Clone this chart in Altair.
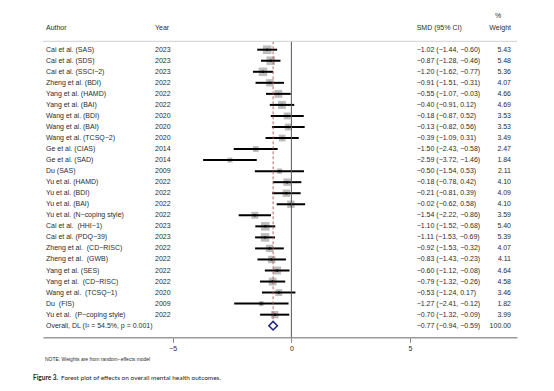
import altair as alt
import pandas as pd

authors = ["Cai et al. (SAS)", "Cai et al. (SDS)", "Cai et al. (SSCI\u22122)", "Zheng et al. (BDI)",
           "Yang et al. (HAMD)", "Yang et al. (BAI)", "Wang et al. (BDI)", "Wang et al. (BAI)",
           "Wang et al. (TCSQ\u22122)", "Ge et al. (CIAS)", "Ge et al. (SAD)", "Du (SAS)",
           "Yu et al. (HAMD)", "Yu et al. (BDI)", "Yu et al. (BAI)", "Yu et al. (N\u2212coping style)",
           "Cai et al.\u00a0 (HHI\u22121)", "Cai et al. (PDQ\u221239)", "Zheng et al.\u00a0 (CD\u2212RISC)",
           "Zheng et al.\u00a0 (GWB)", "Yang et al. (SES)", "Yang et al.\u00a0 (CD\u2212RISC)",
           "Wang et al.\u00a0 (TCSQ\u22121)", "Du\u00a0 (FIS)", "Yu et al.\u00a0 (P\u2212coping style)"]
years = [2023, 2023, 2023, 2022, 2022, 2022, 2020, 2020, 2020, 2014, 2014, 2009, 2022, 2022, 2022,
         2022, 2023, 2023, 2022, 2022, 2022, 2022, 2020, 2009, 2022]
smd = [-1.02, -0.87, -1.20, -0.91, -0.55, -0.40, -0.18, -0.13, -0.39, -1.50, -2.59, -0.50, -0.18,
       -0.21, -0.02, -1.54, -1.10, -1.11, -0.92, -0.83, -0.60, -0.79, -0.53, -1.27, -0.70]
lo = [-1.44, -1.28, -1.62, -1.51, -1.07, -0.91, -0.87, -0.82, -1.09, -2.43, -3.72, -1.54, -0.78,
      -0.81, -0.62, -2.22, -1.52, -1.53, -1.53, -1.43, -1.12, -1.32, -1.24, -2.41, -1.32]
hi = [-0.60, -0.46, -0.77, -0.31, -0.03, 0.12, 0.52, 0.56, 0.31, -0.58, -1.46, 0.53, 0.42, 0.39,
      0.58, -0.86, -0.68, -0.69, -0.32, -0.23, -0.08, -0.26, 0.17, -0.12, -0.09]
weights = [5.43, 5.48, 5.36, 4.07, 4.66, 4.69, 3.53, 3.53, 3.49, 2.47, 1.84, 2.11, 4.10, 4.09, 4.10,
           3.59, 5.40, 5.39, 4.07, 4.11, 4.64, 4.58, 3.46, 1.82, 3.99]
overall_label = "Overall, DL (I\u00b2 = 54.5%, p = 0.001)"
overall_smd, overall_lo, overall_hi, overall_w = -0.77, -0.94, -0.59, 100.00
headers = ["Author", "Year", "SMD (95% CI)", "Weight", "%"]
x_ticks = [-5, 0, 5]
note_text = "NOTE: Weights are from random\u2212effects model"
caption_bold = "Figure 3."
caption_rest = "Forest plot of effects on overall mental health outcomes."

FONT = "Liberation Sans"
TXT = "#2b2b2b"
XMIN, XMAX = -10.47, 9.51
YMIN, YMAX = -2.777, 27.05
W, H = 474, 329.3


def fmt(v):
    return f"{v:.2f}".replace("-", "\u2212")


n = len(authors)
rows = list(range(1, n + 1))
orow = n + 1
df = pd.DataFrame({"author": authors, "year": years, "smd": smd, "lo": lo, "hi": hi,
                   "w": weights, "row": rows})
df["ci"] = [f"{fmt(a)} ({fmt(b)}, {fmt(c)})" for a, b, c in zip(smd, lo, hi)]
df["wt"] = [f"{v:.2f}" for v in weights]

xs = alt.Scale(domain=[XMIN, XMAX], nice=False, zero=False)
ys = alt.Scale(domain=[YMIN, YMAX], nice=False, zero=False, reverse=True)
AX = alt.Axis(values=x_ticks, grid=False, domainColor="#9a9a9a", domainWidth=1.6,
              tickColor="#8a8a8a", tickSize=5, tickWidth=1, labelFontSize=7, labelFont=FONT,
              labelColor=TXT, labelPadding=2, title=None)


def X(f):
    return alt.X(f, type="quantitative", scale=xs, axis=AX)


def Y(f="row"):
    return alt.Y(f, type="quantitative", scale=ys, axis=None)


base = alt.Chart(df)

sq = base.mark_point(shape="square", filled=True, color="#bdbdbd", opacity=1).encode(
    x=X("smd"), y=Y(),
    size=alt.Size("w:Q", scale=alt.Scale(type="linear", domain=[0, 5.48], range=[0, 74]), legend=None))
ci = base.mark_rule(color="black", strokeWidth=2).encode(x=X("lo"), x2="hi", y=Y())
dot = base.mark_point(shape="circle", filled=True, color="black", size=6, opacity=1).encode(x=X("smd"), y=Y())

ref = pd.DataFrame({"x": [0.0], "y1": [0.24], "y2": [YMAX]})
zero_line = alt.Chart(ref).mark_rule(color="#555555", strokeWidth=1).encode(x=X("x"), y=Y("y1"), y2="y2")
ovr = pd.DataFrame({"x": [overall_smd], "lo": [overall_lo], "hi": [overall_hi], "y1": [0.24],
                    "y2": [orow - 0.38], "row": [orow]})
dash_line = alt.Chart(ovr).mark_rule(color="#b05a5a", strokeWidth=0.9, strokeDash=[3, 2]).encode(
    x=X("x"), y=Y("y1"), y2="y2")
diamond = alt.Chart(ovr).mark_point(shape="diamond", filled=False, color="#1f2a80", strokeWidth=1.6,
                                    size=72, opacity=1).encode(x=X("x"), y=Y())
hl = pd.DataFrame({"a": [XMIN], "b": [XMAX], "row": [0.24]})
head_line = alt.Chart(hl).mark_rule(color="#d0d0d0", strokeWidth=1).encode(x=X("a"), x2="b", y=Y())

col_author = pd.DataFrame({"t": [headers[0]] + authors + [overall_label], "row": [-1] + rows + [orow]})
col_year = pd.DataFrame({"t": [headers[1]] + [str(v) for v in years], "row": [-1] + rows})
col_ci = pd.DataFrame({"t": [headers[2]] + list(df["ci"]) +
                       [f"{fmt(overall_smd)} ({fmt(overall_lo)}, {fmt(overall_hi)})"],
                       "row": [-1] + rows + [orow]})
col_w = pd.DataFrame({"t": [headers[3]] + list(df["wt"]) + [f"{overall_w:.2f}"], "row": [-1] + rows + [orow]})
col_pct = pd.DataFrame({"t": [headers[4]], "row": [-2.07]})


def textcol(d, xpx, align):
    return alt.Chart(d).mark_text(align=align, baseline="middle", font=FONT, fontSize=7, color=TXT).encode(
        x=alt.value(xpx), y=Y(), text="t:N")


t1 = textcol(col_author, 3, "left")
t2 = textcol(col_year, 112, "left")
t3 = textcol(col_ci, 373.7, "left")
t4 = textcol(col_w, 468, "right")
t5 = textcol(col_pct, 455, "center")

notes = pd.DataFrame({"t": [note_text]})
note = alt.Chart(notes).mark_text(align="left", baseline="middle", font=FONT, fontSize=5, color=TXT).encode(
    x=alt.value(2), y=alt.value(351.5), text="t:N")
cap1 = alt.Chart(pd.DataFrame({"t": [caption_bold]})).mark_text(
    align="left", baseline="middle", font="Lato", fontSize=6.5, fontWeight="bold", color="#222").encode(
    x=alt.value(-10), y=alt.value(370.3), text="t:N")
cap2 = alt.Chart(pd.DataFrame({"t": [caption_rest]})).mark_text(
    align="left", baseline="middle", font="Lato", fontSize=6.5, color="#222").encode(
    x=alt.value(18), y=alt.value(370.3), text="t:N")

chart = alt.layer(sq, ci, dot, zero_line, dash_line, diamond, head_line, t1, t2, t3, t4, t5,
                  note, cap1, cap2).properties(
    width=W, height=H, padding={"left": 35, "top": 0, "right": 10, "bottom": 45},
    autosize=alt.AutoSizeParams(type="none"), background="white",
).configure_view(stroke=None)

chart.save("out.html", embed_options={"renderer": "svg", "actions": False})
